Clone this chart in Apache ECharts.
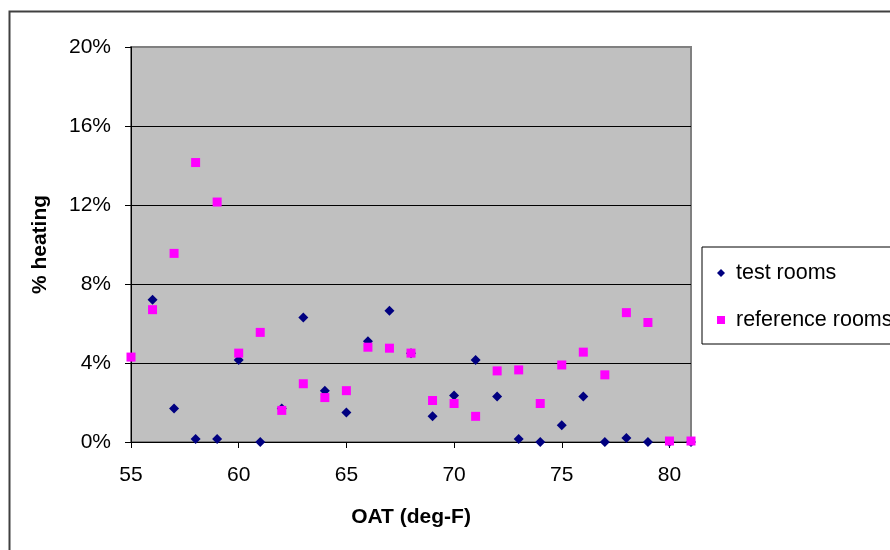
<!DOCTYPE html>
<html>
<head>
<meta charset="utf-8">
<script src="https://cdn.jsdelivr.net/npm/echarts@6/dist/echarts.min.js"></script>
<style>
  html, body { margin: 0; padding: 0; background: #fff; }
  #chart { width: 890px; height: 550px; }
</style>
</head>
<body>
<div id="chart"></div>
<script>
// outside air temperature (deg-F)
const oatTest = [56, 57, 58, 59, 60, 61, 62, 63, 64, 65, 66, 67, 68, 69, 70, 71, 72, 73, 74, 75, 76, 77, 78, 79, 80, 81]
const testRooms = [7.2, 1.7, 0.15, 0.15, 4.15, 0, 1.7, 6.3, 2.6, 1.5, 5.1, 6.65, 4.5, 1.3, 2.35, 4.15, 2.3, 0.15, 0, 0.85, 2.3, 0, 0.2, 0, 0, 0]

const oatRef = [55, 56, 57, 58, 59, 60, 61, 62, 63, 64, 65, 66, 67, 68, 69, 70, 71, 72, 73, 74, 75, 76, 77, 78, 79, 80, 81]
const referenceRooms = [4.3, 6.7, 9.55, 14.15, 12.15, 4.5, 5.55, 1.6, 2.95, 2.25, 2.6, 4.8, 4.75, 4.5, 2.1, 1.95, 1.3, 3.6, 3.65, 1.95, 3.9, 4.55, 3.4, 6.55, 6.05, 0.05, 0.05]

const xTicks = [55, 60, 65, 70, 75, 80]

function pairs(xs, ys) {
  const out = []
  for (let i = 0; i < xs.length; i++) {
    out.push([xs[i], ys[i]])
  }
  return out
}

const font = 'Liberation Sans, Arial, sans-serif'
const chart = echarts.init(document.getElementById('chart'))

const option = {
  animation: false,
  backgroundColor: '#fff',
  graphic: [
    {
      type: 'rect',
      left: 7,
      top: 9,
      shape: { width: 900, height: 600 },
      style: { fill: 'none', stroke: '#404040', lineWidth: 2 },
      silent: true
    }
  ],
  grid: {
    left: 131,
    top: 47,
    width: 560,
    height: 395,
    show: true,
    backgroundColor: '#C0C0C0',
    borderColor: '#808080',
    borderWidth: 2
  },
  legend: {
    orient: 'vertical',
    left: 702,
    top: 247,
    padding: [15, 40, 13, 15],
    itemGap: 25,
    itemWidth: 8,
    itemHeight: 8,
    borderColor: '#000',
    borderWidth: 1,
    backgroundColor: '#fff',
    formatter: function (name) {
      return ' ' + name // a little more room between icon and text
    },
    textStyle: { fontFamily: font, fontSize: 21.5, color: '#000' },
    data: [
      { name: 'test rooms', icon: 'diamond' },
      { name: 'reference rooms', icon: 'rect' }
    ]
  },
  xAxis: {
    type: 'value',
    min: 55,
    max: 81,
    interval: 5,
    name: 'OAT (deg-F)',
    nameLocation: 'middle',
    nameGap: 65,
    nameTextStyle: { fontFamily: font, fontSize: 21, fontWeight: 'bold', color: '#000' },
    axisLine: { show: true, onZero: false, lineStyle: { color: '#000', width: 1 } },
    axisTick: { show: true, length: 6, customValues: xTicks, lineStyle: { color: '#000' } },
    axisLabel: { margin: 23, customValues: xTicks, fontFamily: font, fontSize: 21, color: '#000' },
    splitLine: { show: false }
  },
  yAxis: {
    type: 'value',
    min: 0,
    max: 20,
    interval: 4,
    name: '% heating',
    nameLocation: 'middle',
    nameGap: 80,
    nameTextStyle: { fontFamily: font, fontSize: 21, fontWeight: 'bold', color: '#000' },
    axisLine: { show: true, lineStyle: { color: '#000', width: 1 } },
    axisTick: { show: true, length: 6, lineStyle: { color: '#000' } },
    axisLabel: { margin: 20, formatter: '{value}%', fontFamily: font, fontSize: 21, color: '#000' },
    splitLine: {
      show: true,
      showMinLine: false,
      showMaxLine: false,
      lineStyle: { color: '#000', width: 1 }
    }
  },
  series: [
    {
      name: 'test rooms',
      type: 'scatter',
      symbol: 'diamond',
      symbolSize: 10,
      itemStyle: { color: '#000080', opacity: 1 },
      data: pairs(oatTest, testRooms)
    },
    {
      name: 'reference rooms',
      type: 'scatter',
      symbol: 'rect',
      symbolSize: 9,
      itemStyle: { color: '#FF00FF', opacity: 1 },
      data: pairs(oatRef, referenceRooms)
    }
  ]
}
chart.setOption(option)
</script>
</body>
</html>
